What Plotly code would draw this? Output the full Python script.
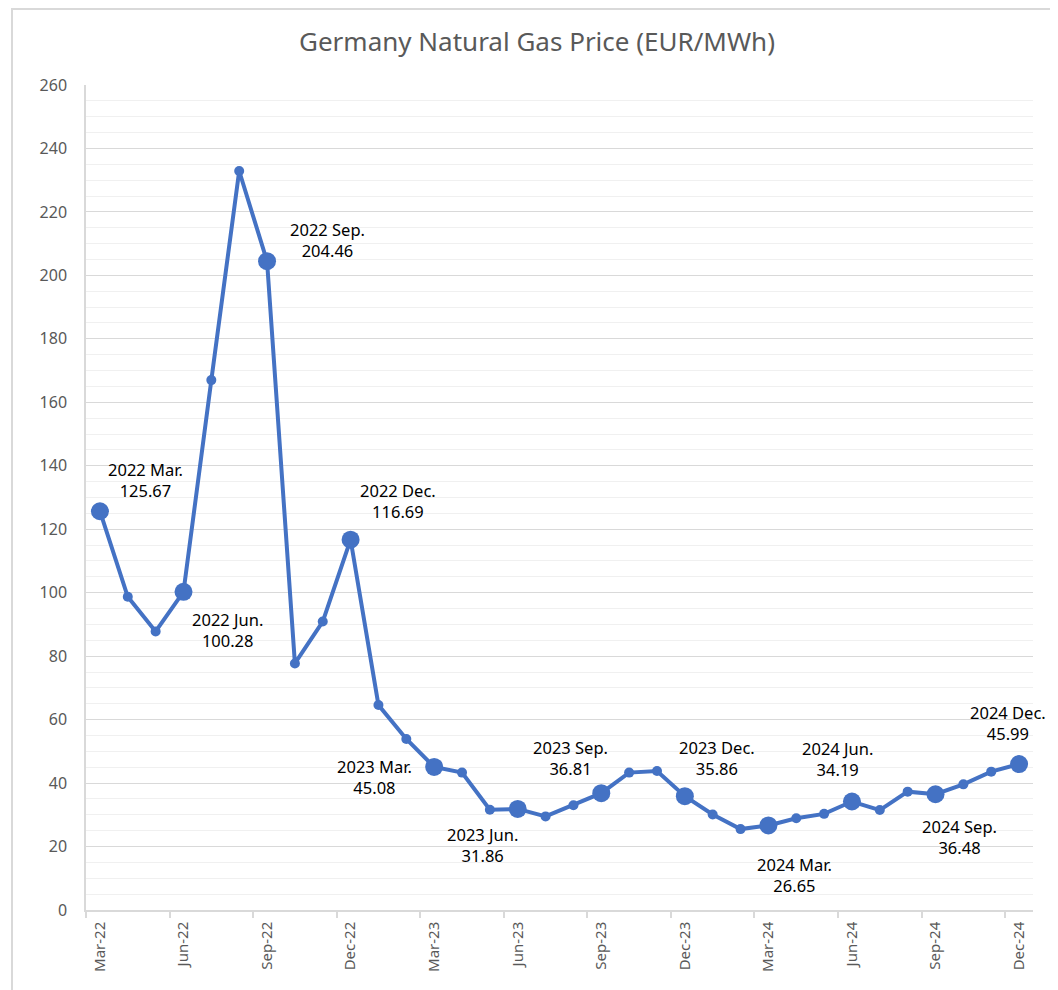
import plotly.graph_objects as go

months = ["Mar-22", "Apr-22", "May-22", "Jun-22", "Jul-22", "Aug-22", "Sep-22", "Oct-22",
          "Nov-22", "Dec-22", "Jan-23", "Feb-23", "Mar-23", "Apr-23", "May-23", "Jun-23",
          "Jul-23", "Aug-23", "Sep-23", "Oct-23", "Nov-23", "Dec-23", "Jan-24", "Feb-24",
          "Mar-24", "Apr-24", "May-24", "Jun-24", "Jul-24", "Aug-24", "Sep-24", "Oct-24",
          "Nov-24", "Dec-24"]
prices = [125.67, 98.7, 87.8, 100.28, 167.0, 232.9, 204.46, 77.7,
          90.9, 116.69, 64.6, 53.9, 45.08, 43.3, 31.6, 31.86,
          29.5, 33.0, 36.81, 43.3, 43.8, 35.86, 30.1, 25.5,
          26.65, 28.9, 30.3, 34.19, 31.5, 37.3, 36.48, 39.6,
          43.6, 45.99]
label_names = {"Mar": "Mar.", "Jun": "Jun.", "Sep": "Sep.", "Dec": "Dec."}

# label offsets (pixels) for quarter-month labels, in order
label_offsets = [(46, 31), (44, -38), (60, 21), (47, 39),
                 (-60, -10), (-35, -36), (-31, 35), (32, 38),
                 (26, -50), (-14, 43), (24, -43), (-11, 41)]

BLUE = "#4472C4"
x_idx = list(range(len(months)))
sizes = [18 if i % 3 == 0 else 10 for i in x_idx]

fig = go.Figure()
fig.add_trace(go.Scatter(
    x=x_idx, y=prices, mode="lines+markers",
    line=dict(color=BLUE, width=4),
    marker=dict(color=BLUE, size=sizes, opacity=1, line=dict(width=0)),
    opacity=1,
    hoverinfo="skip", showlegend=False,
))

annotations = []
q = 0
for i in x_idx:
    if i % 3 == 0:
        mon, yr = months[i].split("-")
        txt = f"20{yr} {label_names[mon]}<br>{prices[i]:.2f}"
        dx, dy = label_offsets[q]
        q += 1
        annotations.append(dict(
            x=i, y=prices[i], xref="x", yref="y", text=txt, showarrow=False,
            xshift=dx, yshift=dy, align="center",
            font=dict(family="Noto Sans", size=16.5, color="#000000"),
        ))

fig.update_layout(
    width=1058, height=990,
    margin=dict(l=78, r=33, t=77, b=88),
    paper_bgcolor="white", plot_bgcolor="white",
    title=dict(text="Germany Natural Gas Price (EUR/MWh)", x=0.5, xanchor="center",
               y=1 - 34 / 990, yanchor="middle",
               font=dict(family="Noto Sans", size=26, color="#595959")),
    annotations=annotations,
    font=dict(family="Noto Sans", color="#595959"),
)

fig.update_xaxes(
    range=[-0.5, len(months) - 0.5],
    tickvals=x_idx[::3], ticktext=months[::3], tickangle=-90,
    tickfont=dict(size=15, color="#595959"),
    showgrid=False, zeroline=False,
    showline=True, linecolor="#d9d9d9", linewidth=1.5,
    ticks="", ticklabelstandoff=4,
    minor=dict(tickvals=[v - 0.5 for v in x_idx[::3]], ticks="outside",
               ticklen=6, tickcolor="#d9d9d9", tickwidth=1.5, showgrid=False),
)
fig.update_yaxes(
    range=[0, 260], dtick=20,
    tickfont=dict(size=16, color="#595959"),
    showgrid=True, gridcolor="#d9d9d9", gridwidth=1.2,
    zeroline=False, showline=True, linecolor="#d9d9d9", linewidth=1.5,
    ticks="", ticklabelstandoff=14,
    minor=dict(dtick=5, showgrid=True, gridcolor="#f0f0f0", gridwidth=1),
)

# chart-area border
fig.add_shape(type="rect", xref="paper", yref="paper",
              x0=(4 - 78) / 947, x1=(1070 - 78) / 947,
              y0=(902 - 1000) / 825, y1=(902 - 1) / 825,
              line=dict(color="#d9d9d9", width=2), fillcolor="rgba(0,0,0,0)", layer="below")

fig.write_html("out.html")
